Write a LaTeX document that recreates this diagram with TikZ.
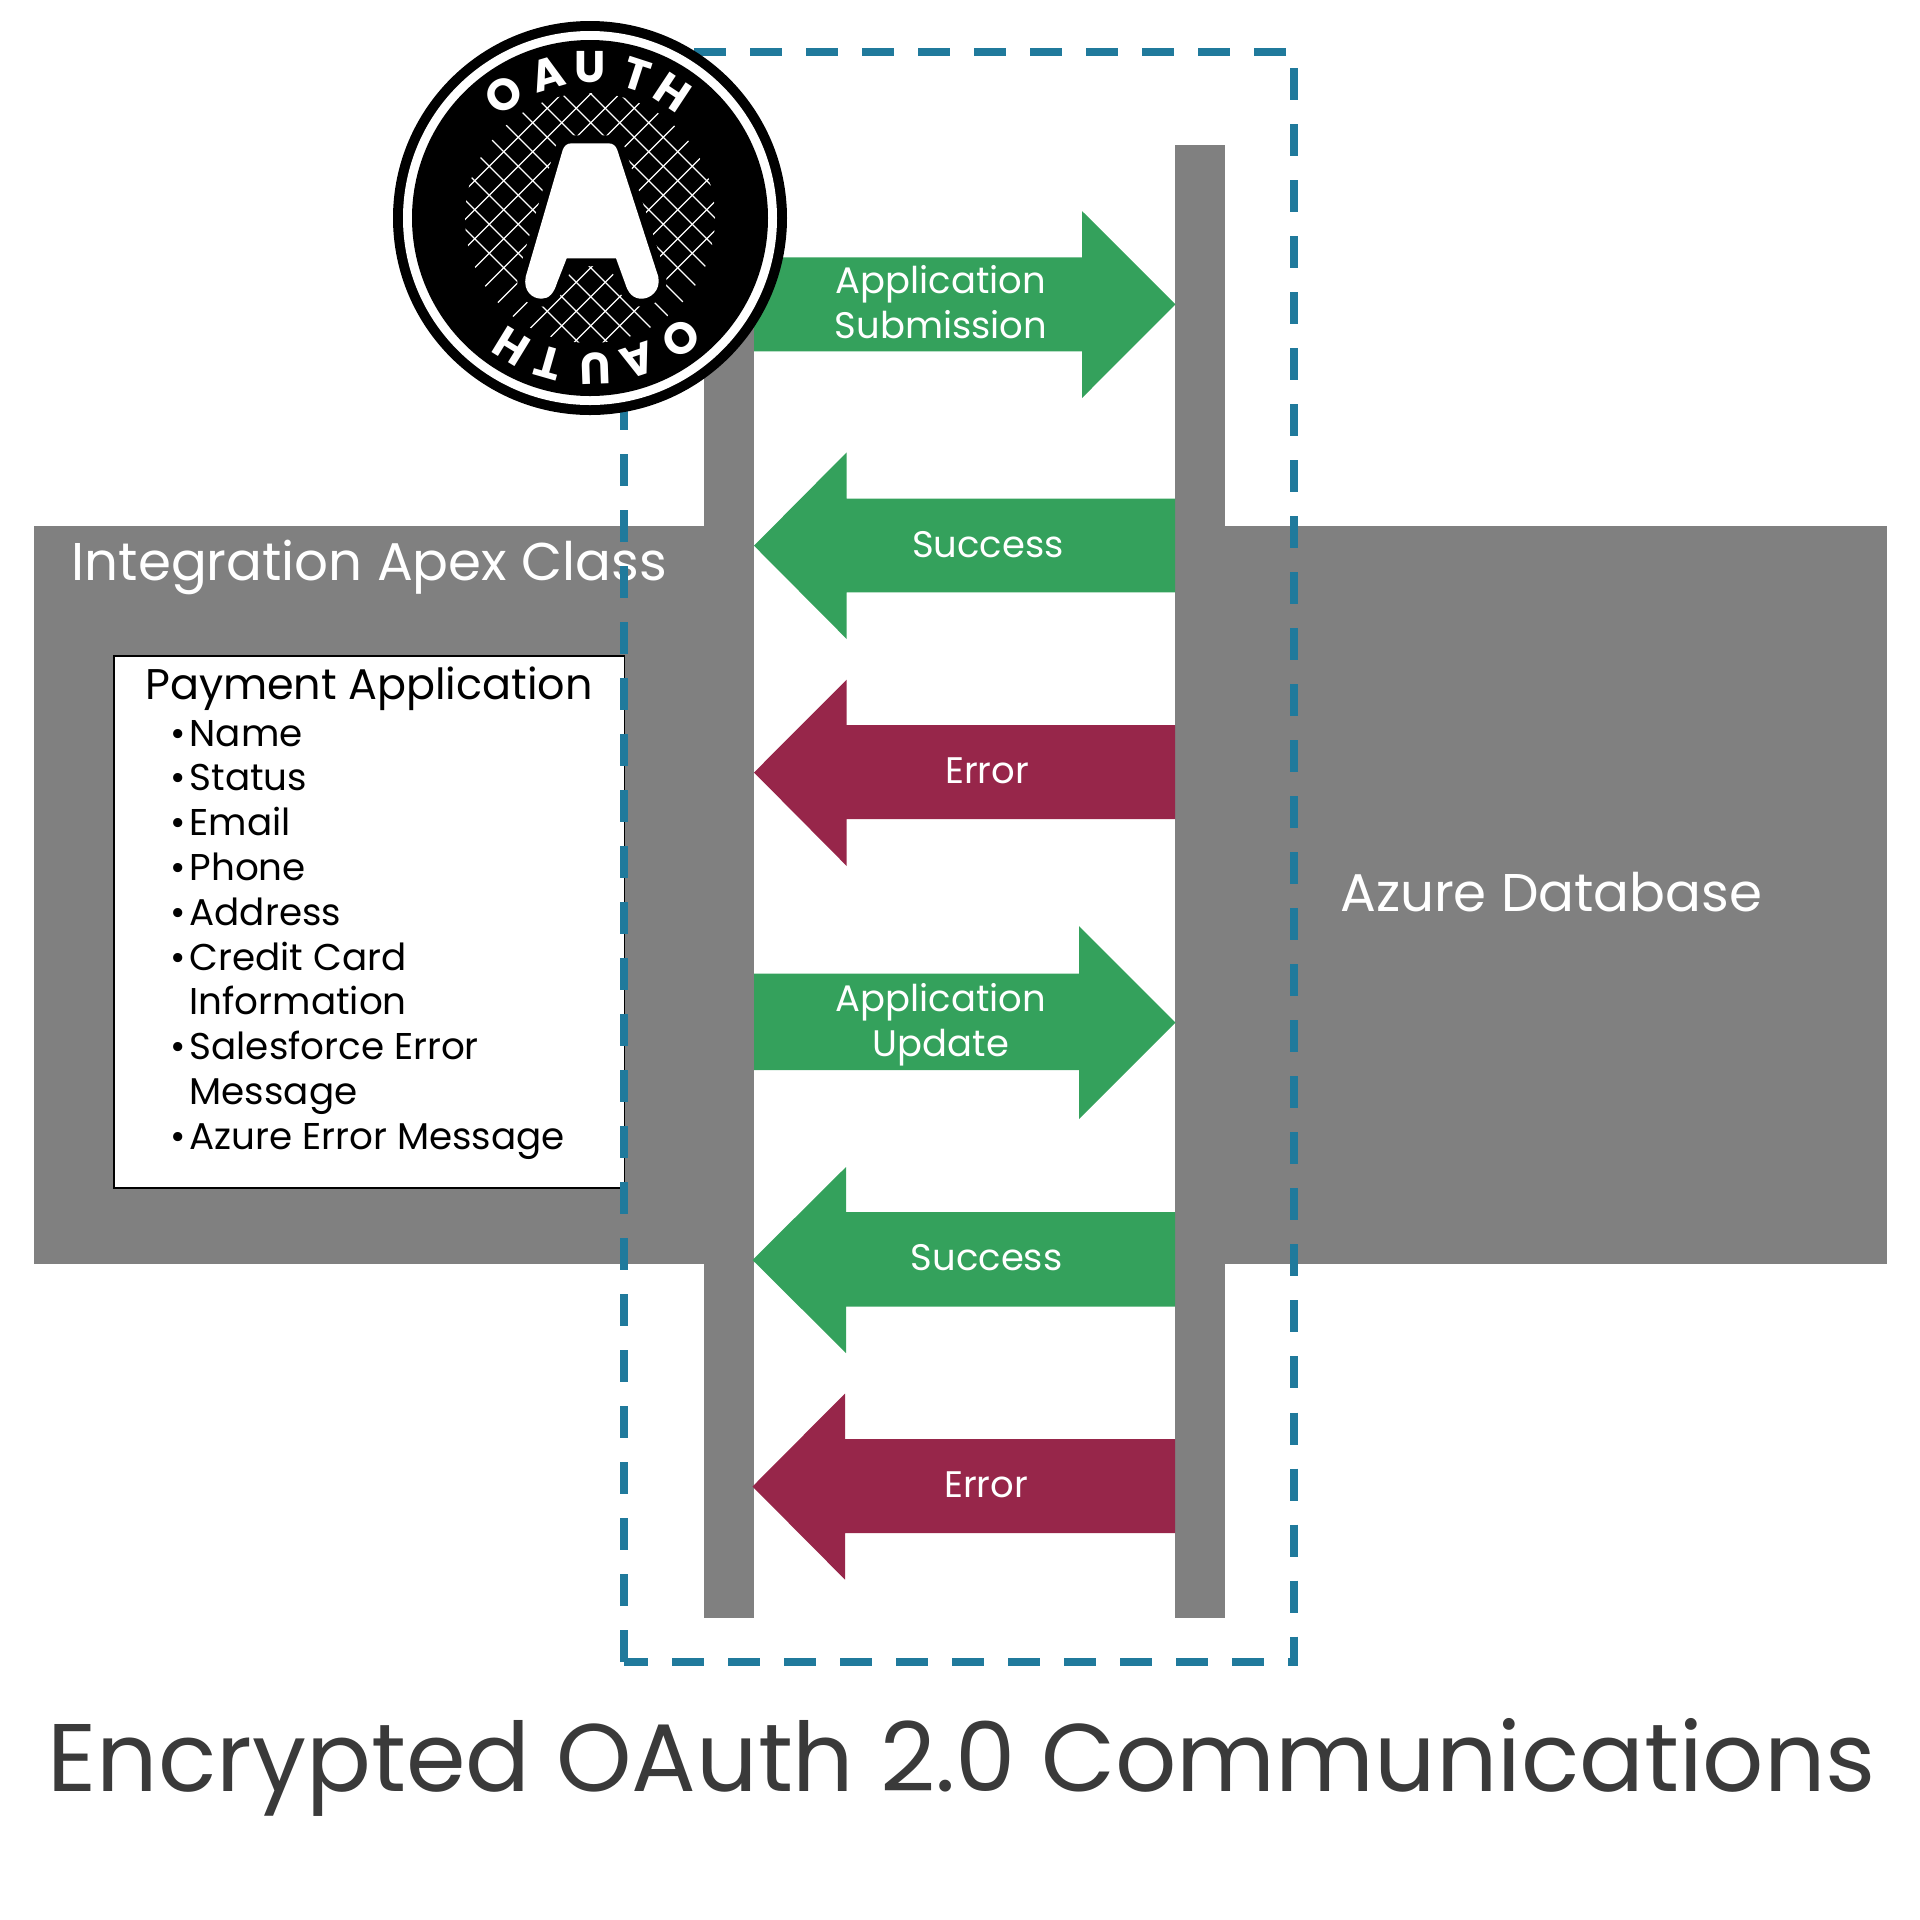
\documentclass[tikz,border=0pt]{standalone}
\usepackage{fontspec}
\setmainfont{Poppins}
\definecolor{arrowgreen}{RGB}{52,161,92}
\definecolor{arrowmaroon}{RGB}{151,38,74}
\definecolor{dashblue}{RGB}{32,122,156}
\definecolor{barcolor}{RGB}{128,128,128}
\definecolor{titlegray}{RGB}{58,58,58}
\tikzset{
	whitetext/.style={text=white,anchor=base,inner sep=0pt,font=\fontsize{10.5}{12.7}\selectfont},
	bigtext/.style={text=white,anchor=base west,inner sep=0pt,font=\fontsize{15.1}{18}\selectfont},
	itemtext/.style={text=black,anchor=base west,inner sep=0pt,font=\fontsize{10.6}{12.7}\selectfont},
	badgeletter/.style={text=white,inner sep=0pt,font=\fontsize{12.6}{14}\selectfont\bfseries},
	dashline/.style={dashblue,line width=2.27pt,dash pattern=on 9.1pt off 6.83pt},
	hatchline/.style={white,line width=0.36pt}
}
\newcommand{\itembul}{\llap{\textbullet\hspace{1.1pt}}}
\begin{document}
\begin{tikzpicture}[x=0.01cm,y=-0.01cm]
	\useasboundingbox (0,0) rectangle (1920,1920);
	% grey blocks
	\fill[barcolor] (34,526) rectangle (704,1264);
	\fill[barcolor] (1225,526) rectangle (1887,1264);
	\fill[barcolor] (704,300) rectangle (754,1618);
	\fill[barcolor] (1175,145) rectangle (1225,1618);
	\node[bigtext] (apexlabel) at (71,580) {Integration Apex Class};
	\node[bigtext] (azurelabel) at (1339.5,911) {Azure Database};
	% payment box
	\draw[black,line width=0.3pt,fill=white] (114,656) rectangle (624.5,1188);
	\node[itemtext,font=\fontsize{12.2}{15}\selectfont] (paylabel) at (144.5,699) {Payment Application};
	\foreach \n/\lbl in {0/\itembul Name,1/\itembul Status,2/\itembul Email,3/\itembul Phone,4/\itembul Address,5/\itembul Credit Card,6/Information,7/\itembul Salesforce Error,8/Message,9/\itembul Azure Error Message}
		\node[itemtext] (item\n) at (189,{746+44.8*\n}) {\lbl};
	% arrows
	\fill[arrowgreen] (754,257.3)--(1082,257.3)--(1082,211)--(1175.5,304.3)--(1082,398)--(1082,351.3)--(754,351.3)--cycle;
	\fill[arrowgreen] (1175,498.7)--(846.7,498.7)--(846.7,452.3)--(754,545.7)--(846.7,639)--(846.7,592.3)--(1175,592.3)--cycle;
	\fill[arrowmaroon] (1175,725)--(846.7,725)--(846.7,679.6)--(754,772.5)--(846.7,866)--(846.7,819)--(1175,819)--cycle;
	\fill[arrowgreen] (754,973.5)--(1079,973.5)--(1079,926)--(1175.5,1022.5)--(1079,1119)--(1079,1070)--(754,1070)--cycle;
	\fill[arrowgreen] (1175,1212)--(846,1212)--(846,1167)--(752.5,1260)--(846,1353)--(846,1306.5)--(1175,1306.5)--cycle;
	\fill[arrowmaroon] (1175,1439)--(845,1439)--(845,1393.5)--(752.5,1486.5)--(845,1579.6)--(845,1533)--(1175,1533)--cycle;
	\node[whitetext] (submit1) at (941,293.5) {Application};
	\node[whitetext] (submit2) at (941,338.6) {Submission};
	\node[whitetext] (okfirst) at (988,557) {Success};
	\node[whitetext] (errfirst) at (987,783) {Error};
	\node[whitetext] (update1) at (941,1011.6) {Application};
	\node[whitetext] (update2) at (941,1056.4) {Update};
	\node[whitetext] (oksecond) at (986.7,1270) {Success};
	\node[whitetext] (errsecond) at (986,1497) {Error};
	% dashed frame
	\draw[dashline] (1286,52)--(624,52);
	\draw[dashline] (1294,68)--(1294,1666);
	\draw[dashline,dash phase=2.28pt] (624,1662)--(1298,1662);
	\draw[dashline] (624,1662)--(624,52);
	% badge
	\fill[black] (590,218) circle (197);
	\fill[white] (590,218) circle (187);
	\fill[black] (590,218) circle (178);
	\begin{scope}
		\clip (590,218) circle (125);
		\foreach \k in {-8,...,8}{
			\draw[hatchline] (400,{400-468-29*\k})--(800,{800-468-29*\k});
			\draw[hatchline] (400,{713.4+29*\k-400})--(800,{713.4+29*\k-800});
		}
	\end{scope}
	\def\badgeA{(525.7,276.7)--(562.7,150) .. controls (564.5,145.5) and (567,143.3) .. (572,143.3)--(608,143.3) .. controls (613,143.3) and (615.5,145.5) .. (617.3,150)--(658.3,276.7) .. controls (661,291) and (650,298.7) .. (641.7,298.7) .. controls (633,298.7) and (628,293) .. (625,283)--(616,258.3)--(566.7,258.3)--(557,283) .. controls (554,293) and (549,298.7) .. (541.7,298.7) .. controls (532,298.7) and (523,291) .. (525.7,276.7)--cycle}
	\draw[black,line width=4.5pt,line join=round] \badgeA;
	\fill[white] \badgeA;
	\foreach \a/\c in {-35/O,-16.5/A,0/U,18/T,33.5/H}{
		\node[badgeletter,rotate=-\a] (top\c) at ({590+150.5*sin(\a)},{218-150.5*cos(\a)}) {\c};
		\node[badgeletter,rotate=-\a-178] (bottom\c) at ({590+150.5*sin(\a+178)},{218-150.5*cos(\a+178)}) {\c};
	}
	% title
	\node[text=titlegray,anchor=base west,inner sep=0pt,font=\fontsize{27.3}{32}\selectfont] (title) at (47,1791) {Encrypted OAuth 2.0 Communications};
\end{tikzpicture}
\end{document}
